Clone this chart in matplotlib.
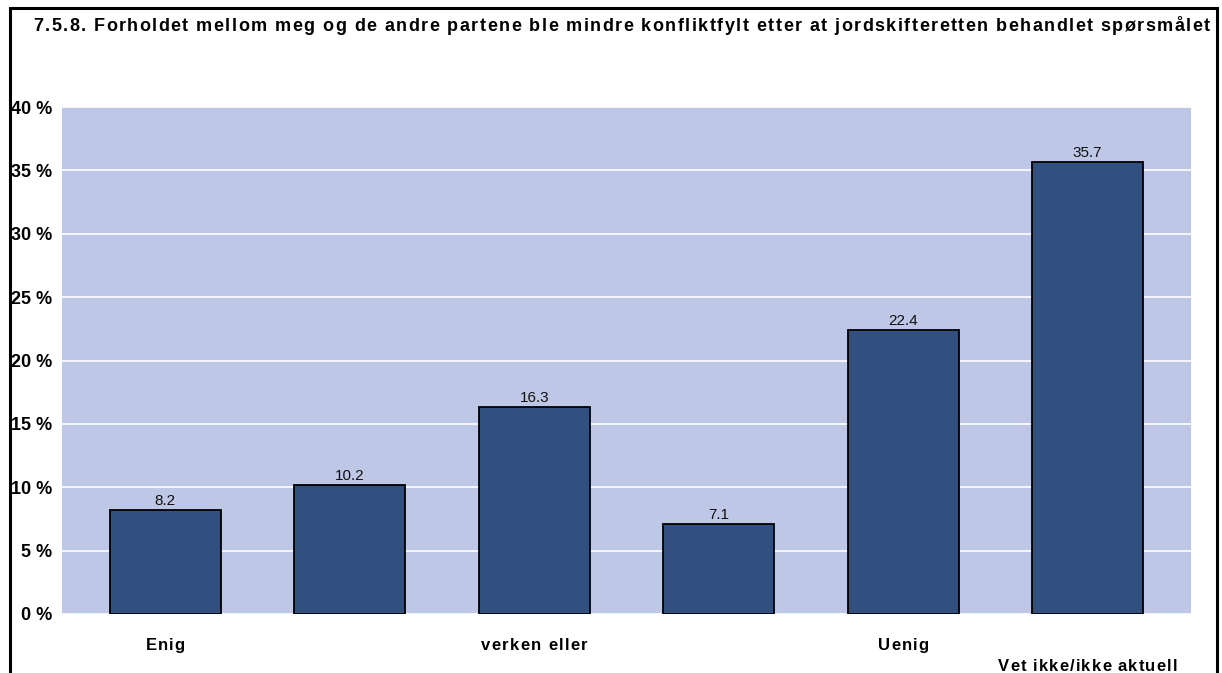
import matplotlib.pyplot as plt
from matplotlib.patches import Rectangle
from matplotlib.font_manager import FontProperties, findfont
from matplotlib.ft2font import FT2Font

plt.rcParams['font.family'] = ['Liberation Sans', 'DejaVu Sans']

title = "7.5.8. Forholdet mellom meg og de andre partene ble mindre konfliktfylt etter at jordskifteretten behandlet spørsmålet"
categories = ['Enig', '', 'verken eller', '', 'Uenig', 'Vet ikke/ikke aktuell']
values = [8.2, 10.2, 16.3, 7.1, 22.4, 35.7]
yticks = [0, 5, 10, 15, 20, 25, 30, 35, 40]

W, H = 1222, 673
fig = plt.figure(figsize=(W / 100, H / 100), dpi=100)


def tracked_text(s, x, y, size, width, centre=False, weight='bold'):
    # spread the letters of s over the given pixel width (x/y from top-left, y = baseline)
    prop = FontProperties(family='Liberation Sans', weight=weight)
    font = FT2Font(findfont(prop))
    font.set_size(size, 100)
    advs = [font.load_char(ord(ch)).linearHoriAdvance / 65536 for ch in s]
    track = (width - sum(advs)) / max(len(s) - 1, 1)
    if centre:
        x = x - width / 2
    for ch, a in zip(s, advs):
        if ch != ' ':
            fig.text(x / W, 1 - y / H, ch, fontsize=size, fontweight=weight,
                     ha='left', va='baseline')
        x += a + track


ax = fig.add_axes([62 / W, 1 - 614 / H, (1191 - 62) / W, (614 - 107) / H])
ax.set_facecolor('#BFC7E6')
x = list(range(len(values)))
ax.bar(x, values, width=0.6, color='#31507F', edgecolor='black', linewidth=1.3, zorder=3)
for xi, v in zip(x, values):
    ax.text(xi, v + 0.15, f'{v:.1f}', ha='center', va='bottom', fontsize=11, color='#111111', zorder=4)

ax.set_xlim(-0.56, 5.56)
ax.set_ylim(0, 40)
ax.set_yticks(yticks)
ax.set_yticklabels([f'{t} %' for t in yticks], fontweight='bold', fontsize=13)
ax.yaxis.grid(True, color='white', linewidth=1.2, zorder=1)
ax.set_axisbelow(True)
ax.tick_params(axis='y', length=0, pad=7)
ax.set_xticks(x)
ax.set_xticklabels([])
ax.tick_params(axis='x', length=0)
for s in ax.spines.values():
    s.set_visible(False)

# category labels, the last one set lower
label_w = {'Enig': 38, 'verken eller': 106, 'Uenig': 50, 'Vet ikke/ikke aktuell': 179}
for i, lab in enumerate(categories):
    if not lab:
        continue
    px = ax.transData.transform((i, 0))[0]
    base = 671 if i == len(categories) - 1 else 650
    tracked_text(lab, px, base, 12, label_w[lab], centre=True)

tracked_text(title, 33, 31, 13, 1177)

# frame round the figure (open at the bottom)
fig.patches.append(Rectangle((10 / W, -0.05), (1217 - 10) / W, 1 - 8 / H + 0.05,
                             transform=fig.transFigure, fill=False, edgecolor='black', linewidth=2.2))

fig.savefig('out.png', dpi=100)
